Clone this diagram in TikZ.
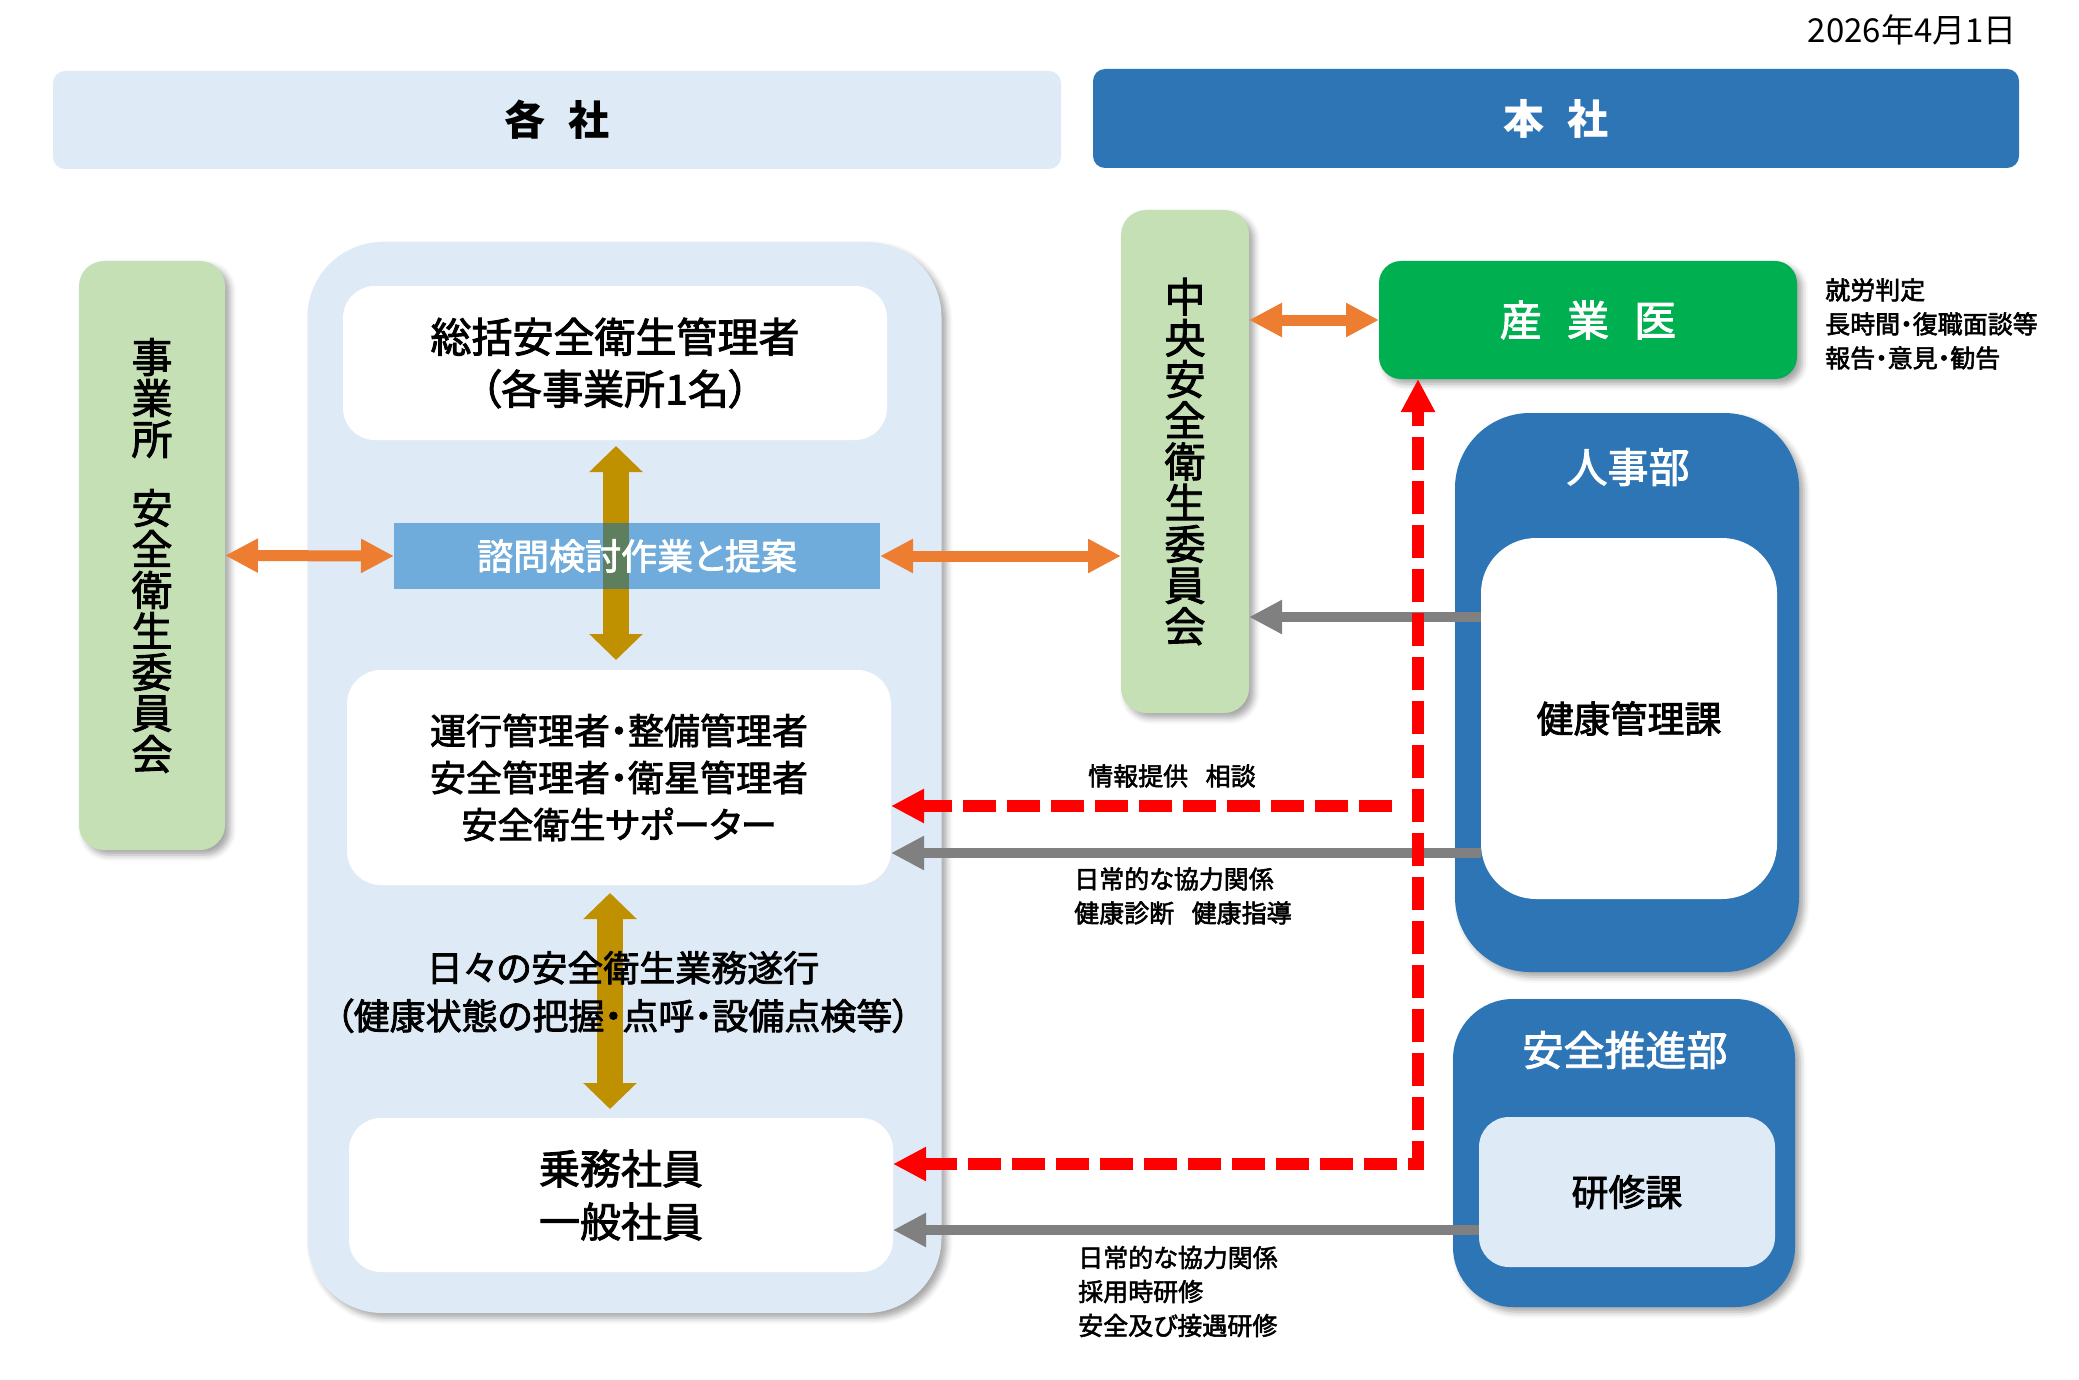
\documentclass[tikz,border=0pt]{standalone}
\usepackage{fontspec}
\setmainfont{Noto Sans CJK JP}[RawFeature=+palt]
\newfontfamily\medf{Noto Sans CJK JP}[RawFeature=+palt, FakeBold=2.2]
\usetikzlibrary{arrows.meta,shadows.blur}
\definecolor{lblue}{HTML}{DEEBF7}
\definecolor{dblue}{HTML}{2E75B6}
\definecolor{lgreen}{HTML}{C5E0B4}
\definecolor{sgreen}{HTML}{00B050}
\definecolor{orng}{HTML}{ED7D31}
\definecolor{goldc}{HTML}{BF9000}
\definecolor{mblue}{HTML}{6FACDB}
\definecolor{gry}{HTML}{808080}
\definecolor{overlapc}{HTML}{5E7F5E}
\tikzset{
  box/.style={rectangle, inner sep=0pt, outer sep=0pt, align=center},
  shad/.style={blur shadow={shadow xshift=5pt, shadow yshift=-5pt, shadow blur radius=6pt, shadow opacity=35}},
  otip/.tip={Triangle[length=33pt,width=32pt]},
  oarr/.style={draw=orng, line width=11pt, otip-otip},
  garr/.style={draw=gry, line width=10pt, -otip},
  rarr/.style={draw=red, line width=12pt, dash pattern=on 33pt off 11pt},
  goldarr/.style={draw=goldc, line width=26pt, {Triangle[length=26pt,width=52pt]}-{Triangle[length=26pt,width=52pt]}},
  lbl/.style={inner sep=0pt, align=left, font=\medf\fontsize{25}{34}\selectfont}
}
\begin{document}
\begin{tikzpicture}[x=1pt,y=-1pt]
\useasboundingbox (0,0) rectangle (2079,1380);
% date
\node[anchor=east, inner sep=0pt, font=\fontsize{33}{38}\selectfont] (date) at (2017,30) {2026年4月1日};
% headers
\node[box, fill=lblue, rounded corners=12pt, minimum width=1008pt, minimum height=98pt, font=\bfseries\fontsize{41}{48}\selectfont] (hdrL) at (557,120) {各\hspace{0.55em}社};
\node[box, fill=dblue, text=white, rounded corners=12pt, minimum width=926pt, minimum height=99pt, font=\bfseries\fontsize{41}{48}\selectfont] (hdrR) at (1556,118.5) {本\hspace{0.55em}社};
% left committee
\node[box, fill=lgreen, shad, rounded corners=25pt, minimum width=146pt, minimum height=589pt, font=\medf\fontsize{41}{41}\selectfont] (jig) at (152,555.5) {事\\業\\所\\[28pt]安\\全\\衛\\生\\委\\員\\会};
% container
\node[box, fill=lblue, shad, rounded corners=75pt, minimum width=634pt, minimum height=1071pt] (cont) at (624.5,777.5) {};
\node[box, fill=white, rounded corners=32pt, minimum width=544pt, minimum height=154pt, font=\medf\fontsize{41}{52}\selectfont] (b1) at (615,363) {総括安全衛生管理者\\（各事業所1名）};
\node[box, fill=mblue, minimum width=486pt, minimum height=66pt] (br) at (637,556) {};
\node[box, fill=white, rounded corners=34pt, minimum width=544pt, minimum height=215pt, font=\medf\fontsize{36}{47}\selectfont] (b2) at (619,777.5) {運行管理者・整備管理者\\安全管理者・衛星管理者\\安全衛生サポーター};
\node[box, fill=white, rounded corners=32pt, minimum width=544pt, minimum height=154pt, font=\medf\fontsize{41}{53}\selectfont] (b3) at (621,1195) {乗務社員\\一般社員};
% central committee
\node[box, fill=lgreen, shad, rounded corners=25pt, minimum width=128pt, minimum height=503pt, font=\medf\fontsize{41}{41.2}\selectfont] (chuo) at (1185,461.5) {中\\央\\安\\全\\衛\\生\\委\\員\\会};
% occupational physician
\node[box, fill=sgreen, shad, text=white, rounded corners=22pt, minimum width=418pt, minimum height=118pt, font=\medf\fontsize{42}{48}\selectfont] (sangyo) at (1588,320) {産\hspace{0.6em}業\hspace{0.6em}医};
% HR
\node[box, fill=dblue, shad, rounded corners=75pt, minimum width=344pt, minimum height=559pt] (jinji) at (1627,692.5) {};
\node[box, text=white, font=\medf\fontsize{41}{48}\selectfont] (jinjit) at (1628,467) {人事部};
\node[box, fill=white, rounded corners=55pt, minimum width=296pt, minimum height=361pt, font=\medf\fontsize{37}{44}\selectfont] (kenko) at (1629,718.5) {健康管理課};
% safety
\node[box, fill=dblue, shad, rounded corners=60pt, minimum width=342pt, minimum height=308pt] (anzen) at (1624,1153) {};
\node[box, text=white, font=\medf\fontsize{41}{48}\selectfont] (anzent) at (1625,1050) {安全推進部};
\node[box, fill=lblue, rounded corners=30pt, minimum width=296pt, minimum height=150pt, font=\medf\fontsize{37}{44}\selectfont] (kenshu) at (1627,1192) {研修課};
% coordinates
\coordinate (gx1) at (616,0);
\coordinate (gx2) at (610,0);
\coordinate (ya) at (0,617);
\coordinate (yb) at (0,853);
\coordinate (yc) at (0,1230);
\coordinate (r1) at (1392,806);
\coordinate (corner) at (1418,1164);
% gold arrows
\draw[goldarr, shorten <=6pt, shorten >=10pt] (b1.south -| gx1) -- (b2.north -| gx1);
\fill[overlapc] (603,522.5) rectangle (629,589);
\node[box, text=white, font=\medf\fontsize{36}{44}\selectfont] (brt) at (br.center) {諮問検討作業と提案};
\draw[goldarr, shorten <=8pt, shorten >=9pt] (b2.south -| gx2) -- (b3.north -| gx2);
\node[box, font=\medf\fontsize{36}{48}\selectfont] (daily) at (623,992) {日々の安全衛生業務遂行\\（健康状態の把握・点呼・設備点検等）};
% orange arrows
\draw[oarr] (jig.east) -- (br.west);
\draw[oarr] (br.east) -- (chuo.west |- br.east);
\draw[oarr] (chuo.east |- sangyo.west) -- (sangyo.west);
% gray arrows
\draw[garr] (kenko.west |- ya) -- (chuo.east |- ya);
\draw[garr] (kenko.west |- yb) -- (b2.east |- yb);
\draw[garr] (kenshu.west |- yc) -- (b3.east |- yc);
% red dashed arrows
\draw[rarr, -otip] (r1) -- (b2.east |- r1);
\draw[rarr, otip-otip] (b3.east |- corner) -- (corner) -- (corner |- sangyo.south);
% labels
\node[lbl, anchor=west] (l1) at (1088,776) {情報提供\hspace{0.7em}相談};
\node[lbl, anchor=west] (l2) at (1074,896) {日常的な協力関係\\健康診断\hspace{0.7em}健康指導};
\node[lbl, anchor=west] (l3) at (1078,1291.5) {日常的な協力関係\\採用時研修\\安全及び接遇研修};
\node[lbl, anchor=west] (l4) at (1825,324) {就労判定\\長時間・復職面談等\\報告・意見・勧告};
\end{tikzpicture}
\end{document}
